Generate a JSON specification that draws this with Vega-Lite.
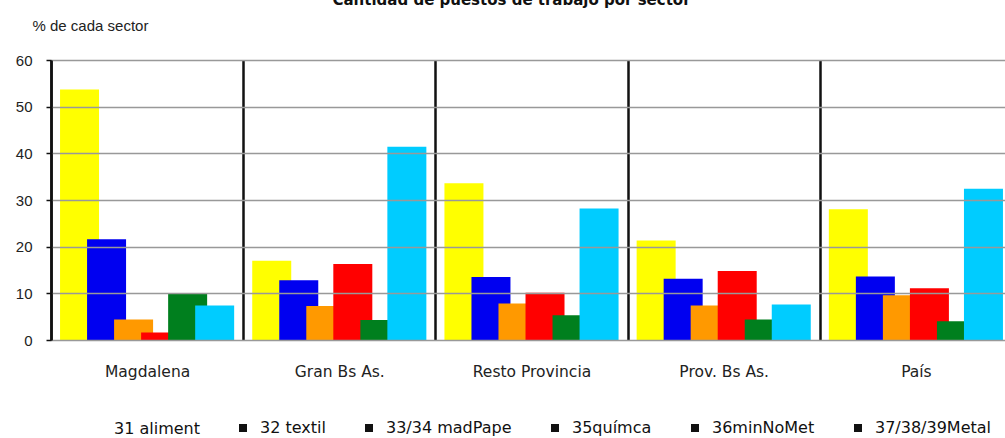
{
  "$schema": "https://vega.github.io/schema/vega-lite/v6.json",
  "width": 1005,
  "height": 438,
  "autosize": {"type": "fit", "contains": "padding"},
  "padding": {"left": 15, "right": -7, "top": -7, "bottom": 0},
  "background": "white",
  "title": {
    "text": "Cantidad de puestos de trabajo por sector",
    "font": "DejaVu Sans",
    "fontSize": 15,
    "fontWeight": "bold",
    "color": "#111",
    "anchor": "middle",
    "dy": -10,
    "dx": -20,
    "offset": 0
  },
  "data": {
    "values": [
      {"region": "Magdalena", "sector": "31 aliment", "pct": 53.7},
      {"region": "Magdalena", "sector": "32 textil", "pct": 21.6},
      {"region": "Magdalena", "sector": "33/34 madPape", "pct": 4.4},
      {"region": "Magdalena", "sector": "35químca", "pct": 1.6},
      {"region": "Magdalena", "sector": "36minNoMet", "pct": 9.9},
      {"region": "Magdalena", "sector": "37/38/39Metal", "pct": 7.4},
      {"region": "Gran Bs As.", "sector": "31 aliment", "pct": 17.0},
      {"region": "Gran Bs As.", "sector": "32 textil", "pct": 12.8},
      {"region": "Gran Bs As.", "sector": "33/34 madPape", "pct": 7.3},
      {"region": "Gran Bs As.", "sector": "35químca", "pct": 16.3},
      {"region": "Gran Bs As.", "sector": "36minNoMet", "pct": 4.3},
      {"region": "Gran Bs As.", "sector": "37/38/39Metal", "pct": 41.4},
      {"region": "Resto Provincia", "sector": "31 aliment", "pct": 33.6},
      {"region": "Resto Provincia", "sector": "32 textil", "pct": 13.5},
      {"region": "Resto Provincia", "sector": "33/34 madPape", "pct": 7.8},
      {"region": "Resto Provincia", "sector": "35químca", "pct": 10.1},
      {"region": "Resto Provincia", "sector": "36minNoMet", "pct": 5.3},
      {"region": "Resto Provincia", "sector": "37/38/39Metal", "pct": 28.2},
      {"region": "Prov. Bs As.", "sector": "31 aliment", "pct": 21.3},
      {"region": "Prov. Bs As.", "sector": "32 textil", "pct": 13.1},
      {"region": "Prov. Bs As.", "sector": "33/34 madPape", "pct": 7.4},
      {"region": "Prov. Bs As.", "sector": "35químca", "pct": 14.8},
      {"region": "Prov. Bs As.", "sector": "36minNoMet", "pct": 4.4},
      {"region": "Prov. Bs As.", "sector": "37/38/39Metal", "pct": 7.6},
      {"region": "País", "sector": "31 aliment", "pct": 28.0},
      {"region": "País", "sector": "32 textil", "pct": 13.6},
      {"region": "País", "sector": "33/34 madPape", "pct": 9.6},
      {"region": "País", "sector": "35químca", "pct": 11.1},
      {"region": "País", "sector": "36minNoMet", "pct": 4.0},
      {"region": "País", "sector": "37/38/39Metal", "pct": 32.4}
    ]
  },
  "mark": {"type": "bar", "width": 39},
  "encoding": {
    "x": {
      "field": "region",
      "type": "nominal",
      "sort": null,
      "scale": {"paddingInner": 0, "paddingOuter": 0},
      "axis": {
        "title": null,
        "labelAngle": 0,
        "labelFont": "DejaVu Sans",
        "labelFontSize": 15.5,
        "labelColor": "#222",
        "labelPadding": 24,
        "labelBaseline": "top",
        "ticks": false,
        "domain": false,
        "grid": true,
        "gridColor": "#111",
        "gridWidth": 2.5,
        "tickBand": "extent",
        "zindex": 1
      }
    },
    "xOffset": {
      "field": "sector",
      "type": "nominal",
      "sort": null,
      "scale": {"paddingInner": 0, "paddingOuter": 0.556}
    },
    "y": {
      "field": "pct",
      "type": "quantitative",
      "scale": {"domain": [0, 60], "nice": false},
      "axis": {
        "title": "% de cada sector",
        "titleAngle": 0,
        "titleAlign": "left",
        "titleBaseline": "bottom",
        "titleX": -19,
        "titleY": -27,
        "titleFont": "Liberation Sans",
        "titleFontSize": 15,
        "titleFontWeight": "normal",
        "titleColor": "#222",
        "values": [0, 10, 20, 30, 40, 50, 60],
        "labelFont": "Liberation Sans",
        "labelFontSize": 15,
        "labelColor": "#222",
        "labelPadding": 14,
        "tickSize": 5,
        "tickColor": "#111",
        "tickWidth": 1.5,
        "domainColor": "#111",
        "domainWidth": 2.5,
        "gridColor": "#999",
        "gridWidth": 1.5,
        "zindex": 1
      }
    },
    "color": {
      "field": "sector",
      "type": "nominal",
      "sort": null,
      "scale": {
        "domain": ["31 aliment", "32 textil", "33/34 madPape", "35químca", "36minNoMet", "37/38/39Metal"],
        "range": ["#FFFF00", "#0000F0", "#FF9900", "#FF0000", "#007F1E", "#00CCFF"]
      },
      "legend": {
        "title": " ",
        "titleOrient": "left",
        "titlePadding": 38,
        "orient": "bottom",
        "direction": "horizontal",
        "columns": 6,
        "symbolType": "square",
        "symbolSize": 16,
        "labelOffset": 9,
        "labelFont": "DejaVu Sans",
        "labelFontSize": 16,
        "labelColor": "#111",
        "columnPadding": 33,
        "offset": 40,
        "encode": {
          "symbols": {
            "update": {
              "fillOpacity": {"value": 0},
              "stroke": {"value": "#111"},
              "strokeWidth": {"value": 4},
              "strokeOpacity": {"signal": "datum.value === '31 aliment' ? 0 : 1"}
            }
          }
        }
      }
    }
  },
  "config": {"view": {"stroke": null}}
}
